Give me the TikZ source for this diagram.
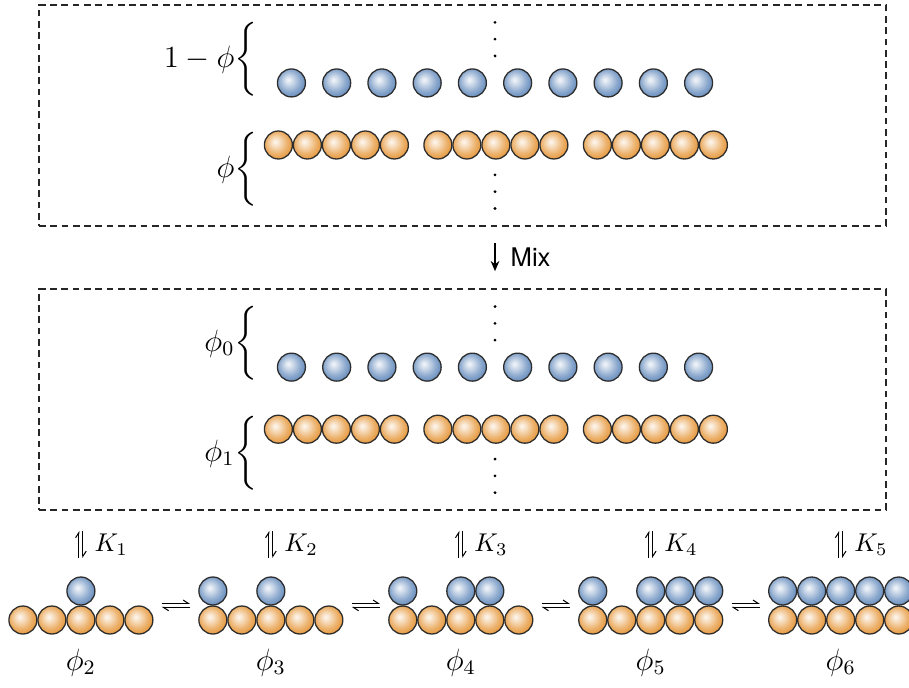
\documentclass[tikz,border=0pt]{standalone}
\usepackage{amsmath}
\usepackage{fontspec}
\setsansfont{TeX Gyre Heros}
\usetikzlibrary{arrows.meta,positioning,fit}
\definecolor{beadblue}{RGB}{104,142,190}
\definecolor{beadorange}{RGB}{230,153,62}
\definecolor{rimgray}{RGB}{45,45,45}

% glossy beads, soft highlight towards the upper left
\pgfdeclareradialshading{blueshade}{\pgfpoint{-6bp}{6bp}}{%
  color(0bp)=(beadblue!8!white); color(4bp)=(beadblue!20!white);
  color(11bp)=(beadblue!45!white); color(19bp)=(beadblue!75!white);
  color(26bp)=(beadblue!95!white); color(35bp)=(beadblue!90!black);
  color(50bp)=(beadblue!75!black)}
\pgfdeclareradialshading{orangeshade}{\pgfpoint{-6bp}{6bp}}{%
  color(0bp)=(beadorange!8!white); color(4bp)=(beadorange!20!white);
  color(11bp)=(beadorange!45!white); color(19bp)=(beadorange!75!white);
  color(26bp)=(beadorange!95!white); color(35bp)=(beadorange!92!black);
  color(50bp)=(beadorange!78!black)}

\begin{document}
\begin{tikzpicture}[x=11.3pt,y=11.3pt,
    bead/.style={circle,draw=rimgray,line width=0.5pt,minimum size=10.9pt,inner sep=0pt},
    bblue/.style={bead,shading=blueshade},
    borange/.style={bead,shading=orangeshade},
    dashbox/.style={draw=black!85,line width=0.6pt,dash pattern=on 2.6pt off 1.8pt,inner sep=0pt},
    harp/.style={line width=0.4pt,-{Straight Barb[left,length=2pt,width=2.6pt]}},
    mixarr/.style={-{Stealth[length=4pt,width=3.4pt]},line width=0.5pt,
                   shorten <=6.3pt,shorten >=6.7pt},
    fraclabel/.style={font=\large,inner sep=0pt,anchor=east}
  ]
  \useasboundingbox (0,0) rectangle (31.345,23.69);

  % the two panels: pure chains, then the mixed ones
  \foreach \yb/\lb/\lo/\nm in {20.83/{1-\phi}/{\phi}/top, 11.03/{\phi_0}/{\phi_1}/low}{
    \coordinate (\nm-nw) at (1.345,\yb+2.69);
    \coordinate (\nm-se) at (30.55,\yb-4.93);
    \node[dashbox,fit=(\nm-nw)(\nm-se)] (\nm) {};
    \foreach \i in {0,...,9}
      \node[bblue] (\nm-b\i) at (10.05+1.56*\i,\yb) {};
    \foreach \g in {0,1,2}
      \foreach \i in {0,...,4}
        \node[borange] (\nm-o\g\i) at (9.6+5.5*\g+\i,\yb-2.14) {};
    \foreach \dd in {0.93,1.51,2.09}{
      \fill (17.07,\yb+\dd) circle (0.6pt);
      \fill (17.07,\yb-2.24-\dd) circle (0.6pt);
    }
    \node[fraclabel] (\nm-lb) at (8.9,\yb+0.81) {$\lb\bigg\{$};
    \node[fraclabel] (\nm-lo) at (8.9,\yb-2.98) {$\lo\bigg\{$};
  }

  \coordinate (col) at (17.07,0);
  \draw[mixarr] (top.south -| col) -- node[right=2.5pt]{\sffamily Mix} (low.north -| col);

  % adsorbed states
  \foreach \k/\tops in {0/{2},1/{0,2},2/{0,2,3},3/{0,2,3,4},4/{0,1,2,3,4}}{
    \foreach \i in {0,...,4}
      \node[borange] (o\k\i) at (0.79+6.55*\k+\i,2.31) {};
    \foreach \i in \tops
      \node[bblue] (b\k\i) at (0.79+6.55*\k+\i,3.31) {};
    \pgfmathtruncatemacro\n{\k+2}
    \node[font=\large,below=2pt of o\k2] (phi\k) {$\phi_{\n}$};
  }

  % equilibria with the mixed panel
  \foreach \k in {0,...,4}{
    \pgfmathtruncatemacro\n{\k+1}
    \coordinate (kt\k) at (b\k2.north |- low.south);
    \draw[harp] ([xshift=-0.78pt,yshift=7.2pt]b\k2.north) -- ([xshift=-0.78pt,yshift=-7.8pt]kt\k);
    \draw[harp] ([xshift=0.78pt,yshift=-7.8pt]kt\k)
      -- node[right=1pt]{$K_{\n}$} ([xshift=0.78pt,yshift=7.2pt]b\k2.north);
  }

  % equilibria between neighbouring states
  \foreach \k in {0,...,3}{
    \pgfmathtruncatemacro\m{\k+1}
    \draw[harp] ([xshift=8.9pt,yshift=0.78pt]o\k4.north) -- ([xshift=-8.9pt,yshift=0.78pt]o\m0.north);
    \draw[harp] ([xshift=-8.9pt,yshift=-0.78pt]o\m0.north) -- ([xshift=8.9pt,yshift=-0.78pt]o\k4.north);
  }
\end{tikzpicture}
\end{document}
